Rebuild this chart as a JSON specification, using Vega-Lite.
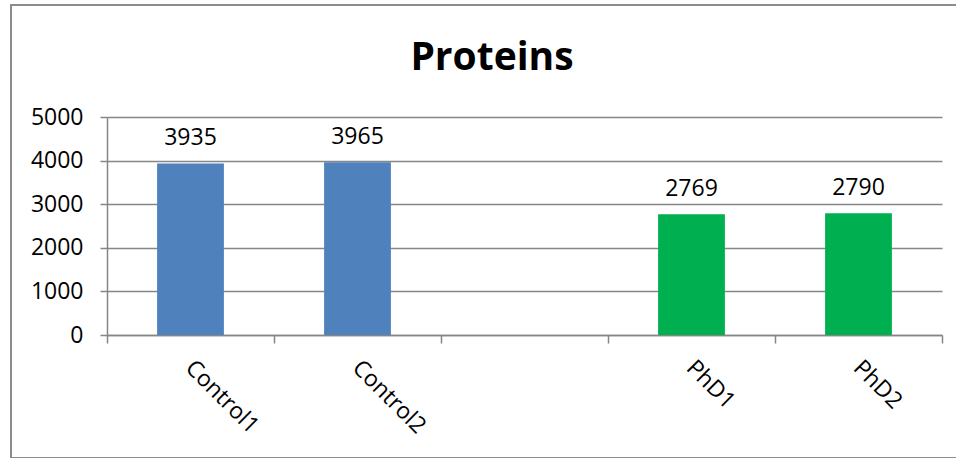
{
  "$schema": "https://vega.github.io/schema/vega-lite/v6.json",
  "autosize": {"type": "none"},
  "padding": {"left": 11, "top": 5, "right": 0, "bottom": 0},
  "width": 946,
  "height": 453,
  "background": "white",
  "title": {
    "text": "Proteins",
    "font": "Open Sans",
    "fontSize": 39,
    "fontWeight": "bold",
    "color": "black",
    "anchor": "middle",
    "frame": "group",
    "baseline": "bottom",
    "offset": -66,
    "dy": 46,
    "dx": 8
  },
  "data": {
    "values": [
      {"sample": "Control1", "group": "Control", "proteins": 3935},
      {"sample": "Control2", "group": "Control", "proteins": 3965},
      {"sample": "PhD1", "group": "PhD", "proteins": 2769},
      {"sample": "PhD2", "group": "PhD", "proteins": 2790}
    ]
  },
  "encoding": {
    "x": {
      "field": "sample",
      "type": "nominal",
      "sort": null,
      "scale": {
        "domain": ["Control1", "Control2", " ", "PhD1", "PhD2"],
        "range": [96, 931],
        "paddingInner": 0,
        "paddingOuter": 0
      },
      "axis": {
        "title": null,
        "orient": "bottom",
        "offset": -123,
        "tickBand": "extent",
        "grid": false,
        "domainColor": "#868686",
        "domainWidth": 1.5,
        "tickColor": "#868686",
        "tickWidth": 1.5,
        "tickSize": 8,
        "labelAngle": 45,
        "labelAlign": "left",
        "labelBaseline": "top",
        "labelPadding": 13,
        "labelOffset": 6,
        "labelFont": "Open Sans",
        "labelFontSize": 23,
        "labelColor": "black"
      }
    },
    "y": {
      "field": "proteins",
      "type": "quantitative",
      "scale": {"domain": [0, 5000], "range": [330, 112], "nice": false},
      "axis": {
        "title": null,
        "orient": "left",
        "offset": -96,
        "values": [0, 1000, 2000, 3000, 4000, 5000],
        "format": "d",
        "grid": true,
        "gridColor": "#868686",
        "gridWidth": 1.5,
        "domainColor": "#868686",
        "domainWidth": 1.5,
        "tickColor": "#868686",
        "tickWidth": 1.5,
        "tickSize": 7,
        "labelPadding": 17,
        "labelFont": "Open Sans",
        "labelFontSize": 23,
        "labelColor": "black"
      }
    }
  },
  "layer": [
    {
      "mark": {"type": "bar", "width": {"band": 0.4}},
      "encoding": {
        "color": {
          "field": "group",
          "type": "nominal",
          "scale": {"domain": ["Control", "PhD"], "range": ["#4F81BD", "#00B050"]},
          "legend": null
        }
      }
    },
    {
      "mark": {"type": "text", "dy": -13, "font": "Open Sans", "fontSize": 23, "color": "black", "baseline": "bottom"},
      "encoding": {"text": {"field": "proteins", "type": "quantitative", "format": "d"}}
    }
  ],
  "config": {
    "view": {"stroke": "#8c8c8c", "strokeWidth": 2}
  }
}
